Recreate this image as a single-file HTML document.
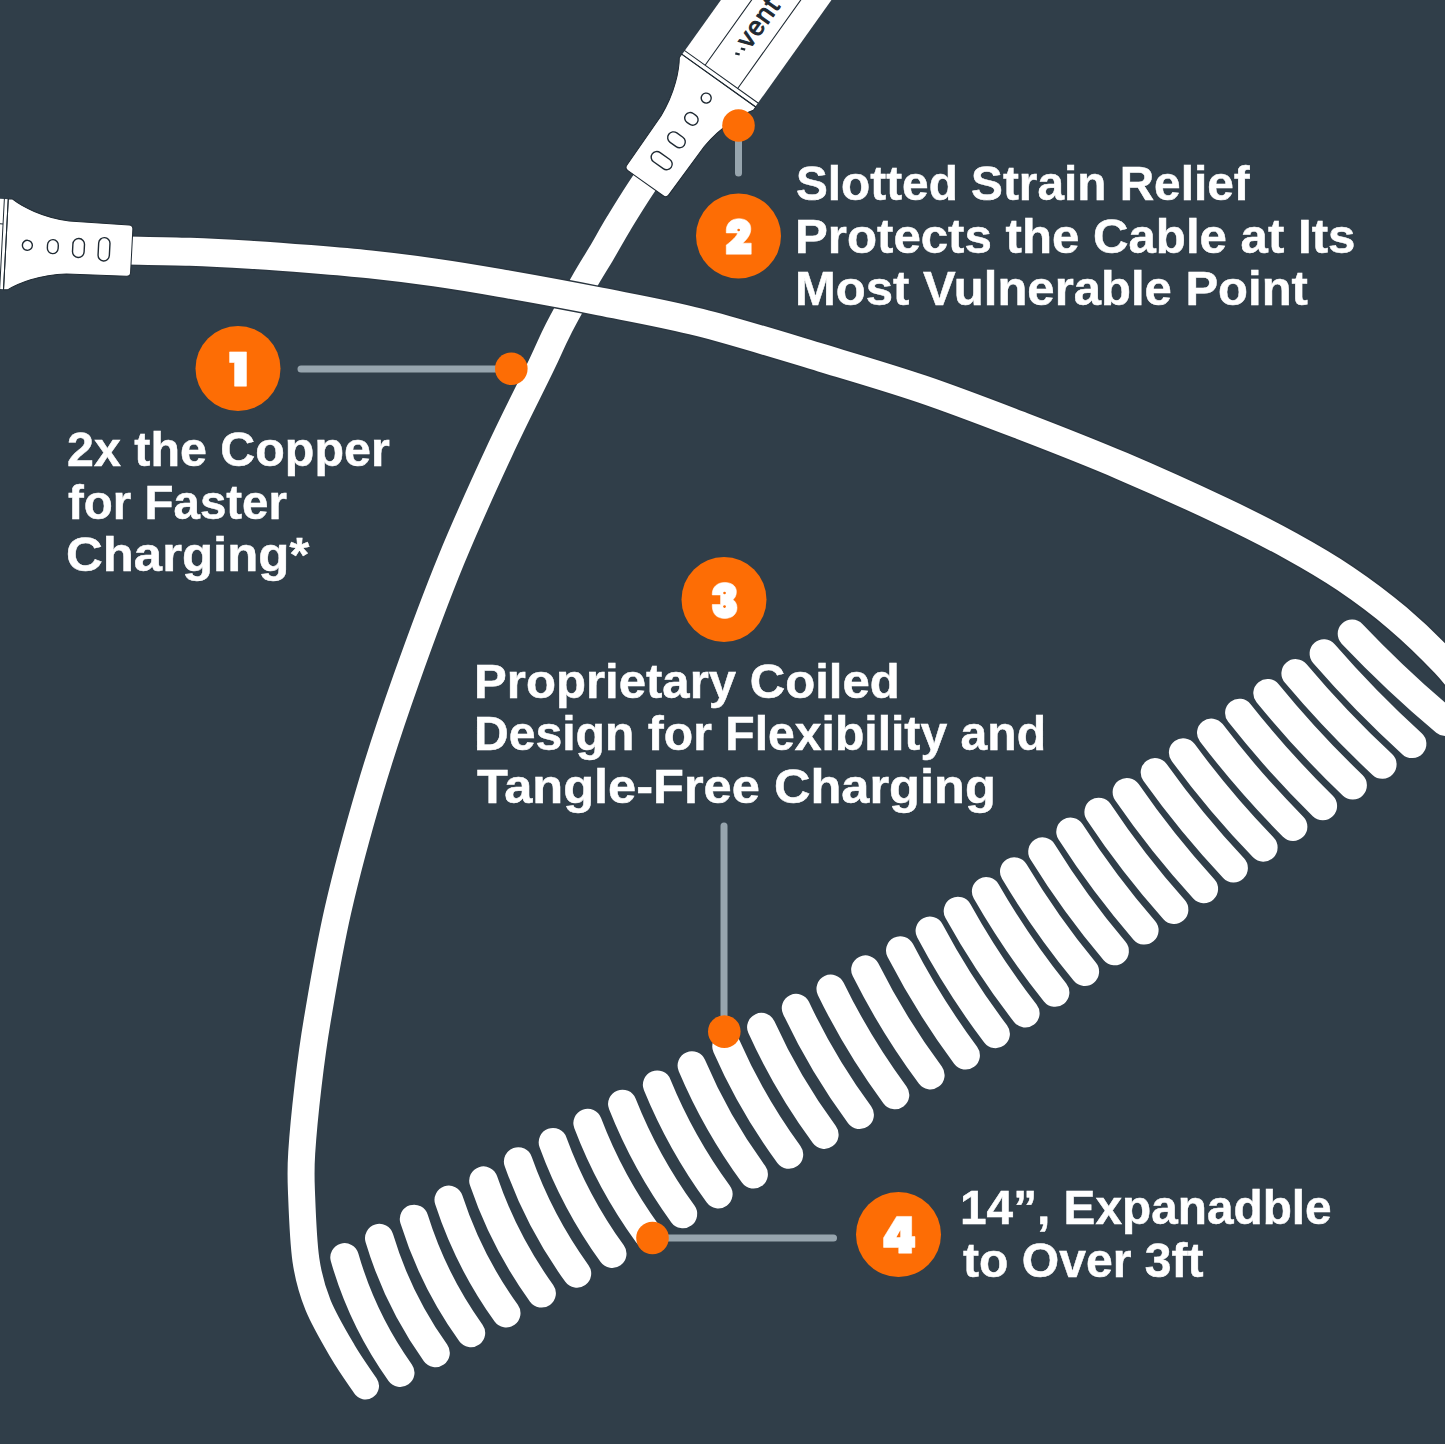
<!DOCTYPE html>
<html><head><meta charset="utf-8"><title>Coiled cable features</title>
<style>
html,body{margin:0;padding:0;background:#303e49;}
body{width:1445px;height:1444px;position:relative;overflow:hidden;font-family:"Liberation Sans",sans-serif;}
.t{position:absolute;white-space:pre;color:#fff;font-weight:bold;font-size:49px;line-height:1;transform-origin:0 0;letter-spacing:0;-webkit-text-stroke:0.5px #fff;}
</style></head><body>
<svg width="1445" height="1444" viewBox="0 0 1445 1444" style="position:absolute;left:0;top:0">
<rect width="1445" height="1444" fill="#303e49"/>
<path d="M680.0,134.0 C674.4,141.7 656.3,165.6 646.1,180.4 C635.9,195.2 626.4,210.8 618.9,223.1 C611.4,235.4 606.9,244.1 601.0,254.0 C595.1,263.9 591.0,270.0 583.8,282.7 C576.6,295.4 565.0,316.1 557.9,330.0 C550.8,343.9 550.6,346.0 541.0,366.0 C531.4,386.0 515.0,417.7 500.0,450.0 C485.0,482.3 466.9,521.7 451.2,560.0 C435.5,598.3 419.6,641.7 406.0,680.0 C392.4,718.3 381.2,751.7 369.9,790.0 C358.6,828.3 346.8,871.7 338.0,910.0 C329.2,948.3 322.3,990.6 317.3,1020.0 C312.3,1049.4 310.6,1064.3 308.0,1086.5 C305.4,1108.7 302.8,1135.8 301.7,1153.0 C300.6,1170.2 300.7,1172.2 301.4,1190.0 C302.1,1207.8 303.1,1240.8 305.9,1260.0 C308.7,1279.2 311.8,1289.7 318.0,1305.0 C324.2,1320.3 335.1,1338.5 343.0,1352.0 C350.9,1365.5 361.8,1380.3 365.5,1386.0" fill="none" stroke="#fff" stroke-width="27" stroke-linecap="round" stroke-linejoin="round"/>
<g fill="none" stroke="#fff" stroke-linecap="round">
<path d="M344.6,1257.4 Q362.5,1319.8 400.2,1372.7" stroke-width="28.6"/>
<path d="M379.3,1238.2 Q397.9,1300.2 435.5,1352.9" stroke-width="28.6"/>
<path d="M414.1,1219.0 Q433.3,1280.6 470.9,1333.0" stroke-width="28.6"/>
<path d="M448.8,1199.9 Q468.7,1261.0 506.2,1313.2" stroke-width="28.6"/>
<path d="M483.5,1180.7 Q504.1,1241.4 541.6,1293.3" stroke-width="28.6"/>
<path d="M518.2,1161.5 Q539.5,1221.7 576.9,1273.5" stroke-width="28.6"/>
<path d="M553.0,1142.3 Q574.9,1202.1 612.2,1253.7" stroke-width="28.6"/>
<path d="M587.7,1123.1 Q610.3,1182.5 647.6,1233.8" stroke-width="28.6"/>
<path d="M622.4,1104.0 Q645.7,1162.8 682.9,1214.0" stroke-width="28.6"/>
<path d="M657.2,1084.8 Q681.1,1143.2 718.3,1194.1" stroke-width="28.6"/>
<path d="M691.9,1065.6 Q716.4,1123.5 753.6,1174.3" stroke-width="28.6"/>
<path d="M726.6,1046.4 Q751.8,1103.9 788.9,1154.5" stroke-width="28.6"/>
<path d="M761.4,1027.2 Q787.2,1084.2 824.3,1134.6" stroke-width="28.6"/>
<path d="M796.1,1008.1 Q822.6,1064.6 859.6,1114.8" stroke-width="28.6"/>
<path d="M830.8,988.9 Q858.0,1044.9 895.0,1094.9" stroke-width="28.6"/>
<path d="M865.5,969.7 Q893.3,1025.2 930.3,1075.1" stroke-width="28.6"/>
<path d="M900.3,950.5 Q928.7,1005.5 965.6,1055.3" stroke-width="28.6"/>
<path d="M929.9,930.9 Q958.6,985.0 995.6,1033.9" stroke-width="28.6"/>
<path d="M958.0,911.1 Q987.7,964.8 1025.3,1013.2" stroke-width="28.6"/>
<path d="M986.2,891.3 Q1016.7,944.5 1055.1,992.5" stroke-width="28.6"/>
<path d="M1014.3,871.5 Q1045.8,924.3 1084.8,971.7" stroke-width="28.6"/>
<path d="M1042.5,851.7 Q1074.8,904.0 1114.6,951.0" stroke-width="28.6"/>
<path d="M1070.6,831.9 Q1103.9,883.8 1144.3,930.3" stroke-width="28.6"/>
<path d="M1098.7,812.0 Q1132.9,863.5 1174.1,909.6" stroke-width="28.6"/>
<path d="M1126.9,792.2 Q1162.0,843.2 1203.8,888.9" stroke-width="28.6"/>
<path d="M1155.0,772.4 Q1191.1,823.0 1233.6,868.1" stroke-width="28.6"/>
<path d="M1183.2,752.6 Q1220.1,802.7 1263.3,847.4" stroke-width="28.6"/>
<path d="M1211.3,732.8 Q1249.2,782.4 1293.1,826.7" stroke-width="28.6"/>
<path d="M1239.4,713.0 Q1278.2,762.1 1322.8,806.0" stroke-width="28.6"/>
<path d="M1267.6,693.2 Q1307.3,741.8 1352.6,785.3" stroke-width="28.6"/>
<path d="M1295.7,673.4 Q1336.3,721.6 1382.3,764.5" stroke-width="28.6"/>
<path d="M1323.9,653.6 Q1365.3,701.3 1412.1,743.8" stroke-width="28.6"/>
<path d="M1352.0,633.8 Q1396.3,680.4 1445.5,721.8" stroke-width="28.6"/>
</g>
<path d="M120.0,250.3 C131.7,250.6 168.3,251.1 190.0,251.8 C211.7,252.5 230.0,253.5 250.0,254.7 C270.0,255.9 290.0,257.4 310.0,259.0 C330.0,260.6 349.2,262.1 370.0,264.4 C390.8,266.6 413.3,269.4 435.0,272.5 C456.7,275.6 472.5,278.2 500.0,283.0 C527.5,287.8 566.7,294.9 600.0,301.5 C633.3,308.1 663.0,313.1 700.0,322.5 C737.0,331.9 785.0,346.9 822.0,358.0 C859.0,369.1 888.7,377.7 922.0,389.0 C955.3,400.3 988.7,413.2 1022.0,426.0 C1055.3,438.8 1088.7,451.8 1122.0,466.0 C1155.3,480.2 1194.0,497.8 1222.0,511.0 C1250.0,524.2 1269.5,534.2 1290.0,545.5 C1310.5,556.8 1327.1,566.4 1345.0,578.5 C1362.9,590.6 1380.7,603.8 1397.4,618.0 C1414.1,632.2 1431.2,648.8 1445.0,663.5 C1458.8,678.2 1474.2,698.9 1480.0,706.0" fill="none" stroke="#2b3640" stroke-width="30.6"/>
<path d="M120.0,250.3 C131.7,250.6 168.3,251.1 190.0,251.8 C211.7,252.5 230.0,253.5 250.0,254.7 C270.0,255.9 290.0,257.4 310.0,259.0 C330.0,260.6 349.2,262.1 370.0,264.4 C390.8,266.6 413.3,269.4 435.0,272.5 C456.7,275.6 472.5,278.2 500.0,283.0 C527.5,287.8 566.7,294.9 600.0,301.5 C633.3,308.1 663.0,313.1 700.0,322.5 C737.0,331.9 785.0,346.9 822.0,358.0 C859.0,369.1 888.7,377.7 922.0,389.0 C955.3,400.3 988.7,413.2 1022.0,426.0 C1055.3,438.8 1088.7,451.8 1122.0,466.0 C1155.3,480.2 1194.0,497.8 1222.0,511.0 C1250.0,524.2 1269.5,534.2 1290.0,545.5 C1310.5,556.8 1327.1,566.4 1345.0,578.5 C1362.9,590.6 1380.7,603.8 1397.4,618.0 C1414.1,632.2 1431.2,648.8 1445.0,663.5 C1458.8,678.2 1474.2,698.9 1480.0,706.0" fill="none" stroke="#fff" stroke-width="28"/>
<g transform="translate(5.9,244.2) rotate(3.0)"><rect x="-20" y="-45" width="21" height="90" fill="#fff"/><path d="M0,-45.5 L4,-45.5 C14,-38.5 35,-28.5 62,-26.5 L122,-25.7 Q126,-25.7 126,-21.7 L126,21.7 Q126,25.7 122,25.7 L62,26.5 C35,28.5 14,38.5 4,45.5 L0,45.5 Z" fill="#fff" stroke="#1f2a33" stroke-width="1" stroke-linejoin="round"/><path d="M0,-45.5 L0,45.5 M-3.9,-45.5 L-3.9,45.5" stroke="#1f2a33" stroke-width="1.0" fill="none"/><path d="M-3.9,-20 L-20,-20" stroke="#1f2a33" stroke-width="1.0" fill="none"/><rect x="16.5" y="-5.0" width="10" height="10" rx="5.0" ry="5.0" fill="#fff" stroke="#1f2a33" stroke-width="1.4"/><rect x="41.6" y="-7.0" width="10.8" height="14" rx="5.4" ry="5.4" fill="#fff" stroke="#1f2a33" stroke-width="1.4"/><rect x="66.9" y="-9.5" width="11.6" height="19" rx="5.8" ry="5.8" fill="#fff" stroke="#1f2a33" stroke-width="1.4"/><rect x="92.6" y="-11.7" width="11.3" height="23.3" rx="5.7" ry="5.7" fill="#fff" stroke="#1f2a33" stroke-width="1.4"/></g>
<g transform="translate(718.7,80.6) rotate(125.5)"><rect x="-160" y="-45" width="161" height="90" fill="#fff"/><path d="M0,-45.5 L4,-45.5 C14,-38.5 35,-28.5 62,-26.5 L122,-25.7 Q126,-25.7 126,-21.7 L126,21.7 Q126,25.7 122,25.7 L62,26.5 C35,28.5 14,38.5 4,45.5 L0,45.5 Z" fill="#fff" stroke="#1f2a33" stroke-width="1" stroke-linejoin="round"/><path d="M0,-45.5 L0,45.5 M-4.6,-45.5 L-4.6,45.5" stroke="#1f2a33" stroke-width="1.0" fill="none"/><path d="M-4.6,-20 L-160,-20 M-4.6,20 L-160,20" stroke="#1f2a33" stroke-width="1.1" fill="none"/><rect x="16.5" y="-5.0" width="10" height="10" rx="5.0" ry="5.0" fill="#fff" stroke="#1f2a33" stroke-width="1.4"/><rect x="41.6" y="-7.0" width="10.8" height="14" rx="5.4" ry="5.4" fill="#fff" stroke="#1f2a33" stroke-width="1.4"/><rect x="66.9" y="-9.5" width="11.6" height="19" rx="5.8" ry="5.8" fill="#fff" stroke="#1f2a33" stroke-width="1.4"/><rect x="92.6" y="-11.7" width="11.3" height="23.3" rx="5.7" ry="5.7" fill="#fff" stroke="#1f2a33" stroke-width="1.4"/></g>
<text transform="translate(749.6,49.8) rotate(-54.5)" font-family="Liberation Sans, sans-serif" font-weight="normal" font-size="26.5" letter-spacing="1.0" fill="#1f2a33" stroke="#1f2a33" stroke-width="1.0">vent</text>
<path d="M735.3,53.3 L739.7,54.5 M740.8,48.5 L745.2,49.7" stroke="#1f2a33" stroke-width="2.3" stroke-linecap="butt" fill="none"/>
<g stroke="#97a5ae" stroke-width="7" stroke-linecap="round" fill="none">
<path d="M301,369.1 L505,369.1"/>
<path d="M738.5,130 L738.5,173"/>
<path d="M724,826 L724,1025"/>
<path d="M660,1238 L833.5,1238"/>
</g>
<circle cx="511.3" cy="368.7" r="16.3" fill="#fd6d05"/>
<circle cx="738.5" cy="125.5" r="16.3" fill="#fd6d05"/>
<circle cx="724.3" cy="1031.6" r="16.3" fill="#fd6d05"/>
<circle cx="652.5" cy="1238" r="16.3" fill="#fd6d05"/>
<circle cx="238" cy="368.5" r="42.5" fill="#fd6d05"/>
<circle cx="738.5" cy="236" r="42.5" fill="#fd6d05"/>
<circle cx="724" cy="599.5" r="42.5" fill="#fd6d05"/>
<circle cx="898.5" cy="1234.5" r="42.5" fill="#fd6d05"/>
<g transform="translate(208,338) scale(0.04155)"><path d="M520,335 L925,335 L925,1160 L640,1160 L640,590 L520,590 Z" fill="#fff" stroke="#fff" stroke-width="14" stroke-linejoin="round"/></g>
<g transform="translate(708,206) scale(0.04155)"><path d="M440,648 L440,565 C455,400 575,305 745,305 C915,305 1030,400 1030,545 C1030,680 960,780 835,895 L1040,895 L1040,1160 L440,1160 L440,940 C560,850 690,735 712,648 Z" fill="#fff" stroke="#fff" stroke-width="14" stroke-linejoin="round"/><circle cx="738" cy="578" r="32" fill="#fd6d05"/></g>
<g transform="translate(694,570) scale(0.04155)"><path d="M440,600 L440,560 C450,400 570,300 740,300 C910,300 1020,390 1020,520 C1020,610 985,680 935,715 C995,750 1035,820 1035,910 C1035,1060 920,1165 740,1165 C560,1165 450,1070 440,880 L440,830 L640,830 L640,600 Z" fill="#fff" stroke="#fff" stroke-width="14" stroke-linejoin="round"/><circle cx="735" cy="553" r="32" fill="#fd6d05"/><circle cx="735" cy="880" r="32" fill="#fd6d05"/></g>
<g transform="translate(868,1205) scale(0.04155)"><path d="M690,275 L1050,275 L1050,760 L1130,760 L1130,1020 L1050,1020 L1050,1160 L740,1160 L740,1020 L375,1020 L375,790 Z" fill="#fff" stroke="#fff" stroke-width="14" stroke-linejoin="round"/><path d="M778,610 L778,778 L685,778 Z" fill="#fd6d05"/></g>
</svg>
<div class="t" style="left:67.0px;top:425.4px;transform:scaleX(0.9877)">2x the Copper</div>
<div class="t" style="left:68.0px;top:477.8px;transform:scaleX(0.9690)">for Faster</div>
<div class="t" style="left:65.9px;top:530.4px;transform:scaleX(1.0388)">Charging*</div>
<div class="t" style="left:796.3px;top:159.3px;transform:scaleX(0.9744)">Slotted Strain Relief</div>
<div class="t" style="left:794.7px;top:212.0px;transform:scaleX(1.0040)">Protects the Cable at Its</div>
<div class="t" style="left:794.7px;top:264.4px;transform:scaleX(1.0004)">Most Vulnerable Point</div>
<div class="t" style="left:474.0px;top:657.0px;transform:scaleX(1.0024)">Proprietary Coiled</div>
<div class="t" style="left:474.1px;top:709.4px;transform:scaleX(0.9818)">Design for Flexibility and</div>
<div class="t" style="left:477.0px;top:762.0px;transform:scaleX(1.0320)">Tangle-Free Charging</div>
<div class="t" style="left:959.6px;top:1183.4px;transform:scaleX(0.9748)">14”, Expanadble</div>
<div class="t" style="left:962.5px;top:1235.7px;transform:scaleX(0.9816)">to Over 3ft</div>
</body></html>
